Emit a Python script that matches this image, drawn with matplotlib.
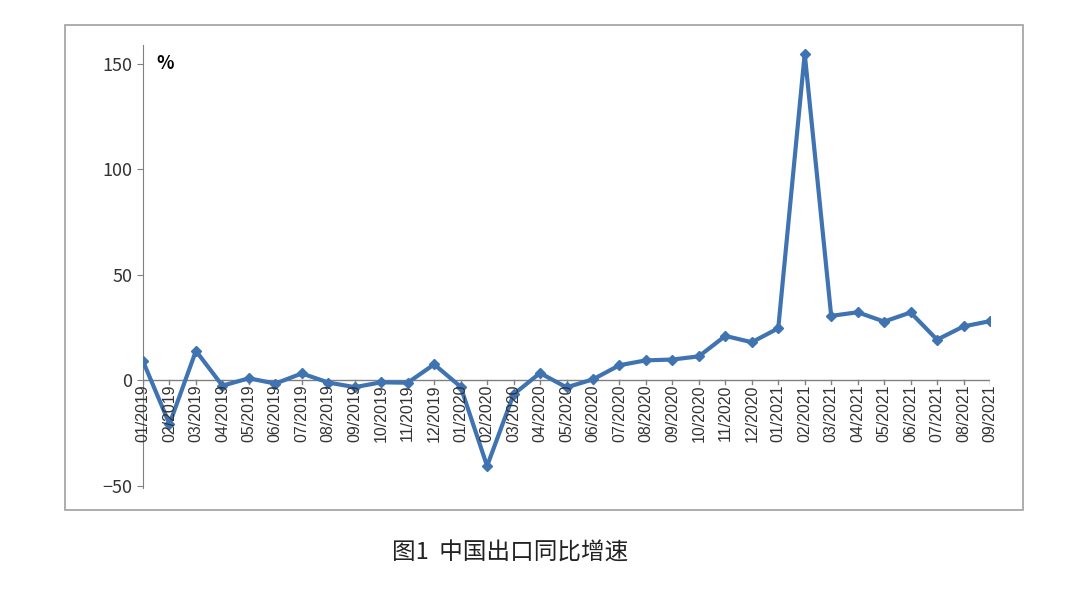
import matplotlib
matplotlib.use("Agg")
import matplotlib.pyplot as plt
from matplotlib.patches import Rectangle

plt.rcParams['font.family'] = ['Noto Sans CJK SC', 'DejaVu Sans']

months = [f"{m:02d}/{y}" for y in (2019, 2020, 2021) for m in range(1, 13)][:33]
values = [9.1, -20.7, 14.0, -2.5, 1.0, -1.5, 3.3, -1.0, -3.2, -0.9, -1.1, 7.6,
          -3.0, -40.6, -6.6, 3.5, -3.3, 0.5, 7.2, 9.5, 9.9, 11.4, 21.1, 18.1,
          24.7, 154.9, 30.6, 32.3, 27.9, 32.2, 19.3, 25.6, 28.1]
yticks = [-50, 0, 50, 100, 150]

fig = plt.figure(figsize=(10.8, 5.89), dpi=100)
fig.patches.append(Rectangle((65/1080, 1-510/589), 958/1080, 485/589,
                             transform=fig.transFigure, fill=False,
                             edgecolor='#a0a0a0', linewidth=1.2))
ax = fig.add_axes([143/1080, 1-488/589, 847/1080, 443/589])
x = list(range(len(values)))
ax.plot(x, values, color='#3F73B2', linewidth=3, marker='D', markersize=5, zorder=3)
ax.set_xlim(0, len(values)-1)
ax.set_ylim(-51, 159)
for s in ('top', 'right', 'bottom'):
    ax.spines[s].set_visible(False)
ax.spines['left'].set_color('#808080')
ax.axhline(0, color='#808080', linewidth=1, zorder=1)
ax.set_yticks(yticks)
ax.tick_params(axis='y', labelsize=13, colors='#333333', length=4, color='#808080')
ax.set_xticks([])
for i, lab in enumerate(months):
    ax.plot([i, i], [0, -1.8], color='#808080', linewidth=1, zorder=1)
    ax.text(i, -1.8, lab, rotation=90, ha='center', va='top', fontsize=11.5,
            color='#333333', family=['Liberation Sans Narrow', 'Liberation Sans', 'DejaVu Sans'])
ax.text(0.5, 150, '%', fontsize=13, fontweight='bold', va='center', ha='left')
fig.text(510/1080, 1-553/589, '图1  中国出口同比增速', fontsize=17, ha='center', va='center', color='#222222')
fig.savefig('out.png', dpi=100)
